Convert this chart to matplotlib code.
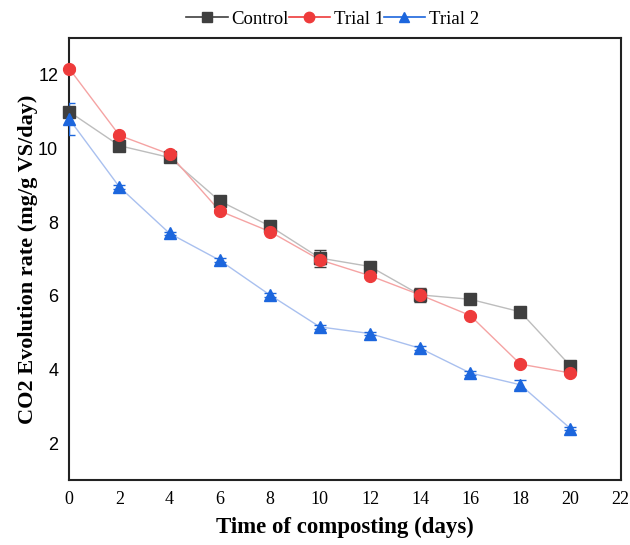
import matplotlib
matplotlib.use('Agg')
import matplotlib.pyplot as plt
from matplotlib.lines import Line2D

# Data
days = [0, 2, 4, 6, 8, 10, 12, 14, 16, 18, 20]
control = [11.0, 10.08, 9.76, 8.58, 7.90, 7.03, 6.80, 6.03, 5.91, 5.57, 4.10]
trial1 = [12.17, 10.36, 9.85, 8.31, 7.75, 6.98, 6.55, 6.03, 5.47, 4.15, 3.91]
trial2 = [10.80, 8.96, 7.70, 6.97, 6.03, 5.16, 4.98, 4.58, 3.91, 3.59, 2.40]
control_err = [0.10, 0.08, 0.05, 0.05, 0.05, 0.23, 0.05, 0.20, 0.05, 0.05, 0.05]
trial1_err = [0.05, 0.05, 0.05, 0.05, 0.05, 0.10, 0.05, 0.15, 0.05, 0.05, 0.05]
trial2_err = [0.44, 0.05, 0.05, 0.05, 0.05, 0.05, 0.05, 0.05, 0.05, 0.12, 0.05]

xticks = list(range(0, 24, 2))
yticks = [2, 4, 6, 8, 10, 12]

series = [
    ('Control', control, control_err, 's', '#3f3f3f', '#bdbdbd'),
    ('Trial 1', trial1, trial1_err, 'o', '#ee3b3b', '#f5a3a3'),
    ('Trial 2', trial2, trial2_err, '^', '#1c66dd', '#a9c0ef'),
]

fig = plt.figure(figsize=(6.3, 5.45), dpi=100)
ax = fig.add_axes([0.110, 0.119, 0.875, 0.811])

handles = []
for name, vals, err, mk, mcol, lcol in series:
    ax.plot(days, vals, color=lcol, lw=1.0, zorder=2)
    ax.errorbar(days, vals, yerr=err, fmt='none', ecolor=mcol, elinewidth=1.0,
                capsize=4, capthick=1.0, zorder=3)
    ax.plot(days, vals, linestyle='none', marker=mk, markersize=8.5,
            color=mcol, markeredgecolor=mcol, zorder=4, clip_on=False)
    handles.append(Line2D([], [], color=mcol, lw=1.2, marker=mk, markersize=7.5,
                          label=name))

ax.set_xlim(0, 22)
ax.set_ylim(1, 13)
ax.set_xticks(xticks)
ax.set_yticks(yticks)
ax.tick_params(length=0, pad=8)
for lab in ax.get_xticklabels():
    lab.set_fontfamily('Liberation Serif')
    lab.set_fontsize(13)
for lab in ax.get_yticklabels():
    lab.set_fontfamily('Liberation Sans')
    lab.set_fontsize(13)
for sp in ax.spines.values():
    sp.set_linewidth(1.5)
    sp.set_color('#222222')

ax.set_xlabel('Time of composting (days)', family='Liberation Serif',
              fontweight='bold', fontsize=16.5, labelpad=6)
ax.set_ylabel('CO2 Evolution rate (mg/g VS/day)', family='Liberation Serif',
              fontweight='bold', fontsize=16, labelpad=0)

fig.legend(handles=handles, loc='center', bbox_to_anchor=(0.528, 0.965), ncol=3,
           frameon=False, prop={'family': 'Liberation Serif', 'size': 13.5},
           handlelength=2.2, handletextpad=0.2, columnspacing=0.0)

fig.savefig('out.png', dpi=100)
